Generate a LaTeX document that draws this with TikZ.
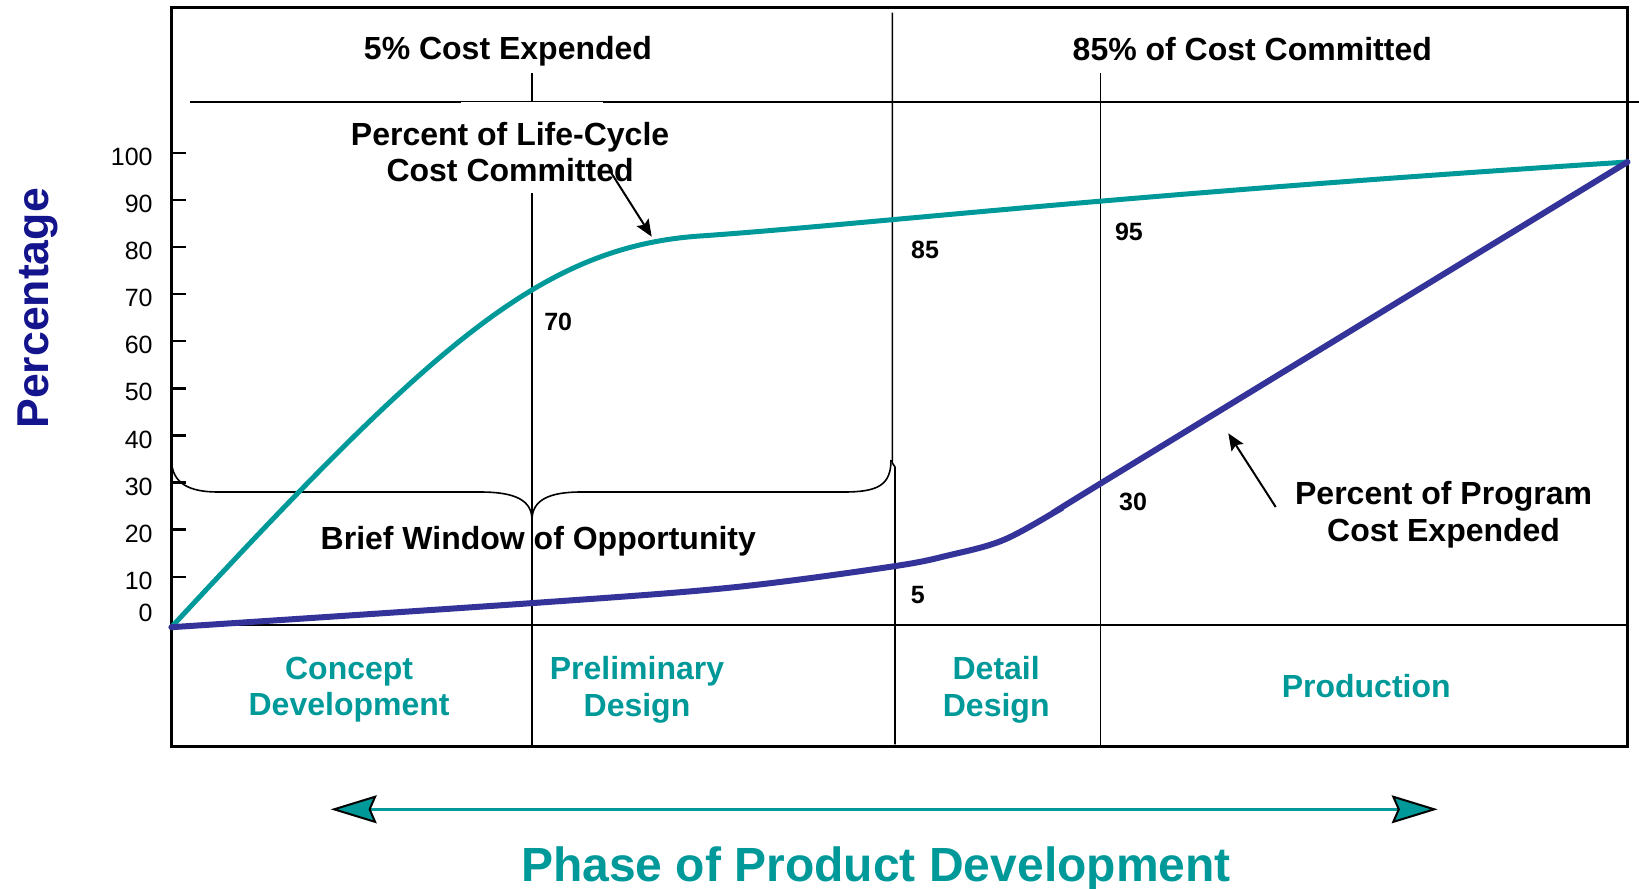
\documentclass[tikz,border=0pt]{standalone}
\usepackage{fontspec}
\setmainfont{Liberation Sans}
\usetikzlibrary{arrows.meta, positioning}
\tikzset{x=0.5pt,y=-0.5pt, >={Stealth[length=8.5pt,width=7pt,inset=1.5pt]}}

\definecolor{lcteal}{RGB}{0,153,153}
\definecolor{pcblue}{RGB}{51,51,153}
\definecolor{axisnavy}{RGB}{20,20,140}

\begin{document}
\begin{tikzpicture}
% Style
[
    frame line/.style={line width=1.5pt},
    phase line/.style={line width=0.8pt},
    committed curve/.style={lcteal, line width=2.5pt, line cap=round},
    expended curve/.style={pcblue, line width=3pt, line cap=round},
    big text/.style={font=\fontsize{16}{18.3}\selectfont\bfseries, align=center, inner sep=0pt},
    value text/.style={font=\fontsize{12.5}{14}\selectfont\bfseries, inner sep=0pt},
    tick text/.style={font=\fontsize{12.5}{14}\selectfont, anchor=east, inner sep=0pt},
    phase text/.style={big text, text=lcteal},
    pointer/.style={->, line width=1pt},
    phase arrow/.style={{Stealth[length=23pt,width=14pt,inset=3pt,color=black,fill=lcteal,line width=1pt]}-{Stealth[length=23pt,width=14pt,inset=3pt,color=black,fill=lcteal,line width=1pt]}, lcteal, line width=1.5pt}
]

%=================================== Start ===================================
{
    \useasboundingbox (0,0) rectangle (1639,889);

    % Define: Frame
    \draw[frame line] (171.4,7.3) rectangle (1627.5,746.3);
    \draw[line width=1pt] (190,102.4) -- (461,102.4);
    \draw[line width=0.5pt] (461,101.9) -- (603,101.9);
    \draw[line width=1pt] (603,102.4) -- (1639,102.4);
    \draw[line width=1.2pt] (171.4,625.1) -- (1627.5,625.1);

    % Define: Phase boundaries
    \draw[phase line] (532.1,73.2) -- (532.1,102.4);
    \draw[phase line] (532.1,193.4) -- (532.1,746.3);
    \draw[phase line] (892.3,12.5) -- (892.3,463) -- (895,467) -- (895,744.3);
    \draw[phase line] (1100.5,73.2) -- (1100.5,746.3);

    % Define: Axis
    \foreach \v in {10,20,...,100} {
        \draw[line width=1.2pt] (171.4,{623.8-4.71*\v}) -- (186,{623.8-4.71*\v});
        \node[tick text] at (153,{627.8-4.71*\v}) {\v};
    }
    \node[tick text] at (153,613) {0};
    \node[rotate=90, font=\fontsize{22.3}{24}\selectfont\bfseries, text=axisnavy] (y label) at (37.5,308.4) {Percentage};

    % Draw: Brace
    \draw[line width=0.8pt] (171.4,460) .. controls (172,484) and (190,492) .. (218,492) -- (480,492)
        .. controls (515,492) and (532,500) .. (532,520) .. controls (532,500) and (549,492) .. (581,492)
        -- (844,492) .. controls (878,492) and (891,485) .. (891,460);

    % Draw: Curves
    \draw[committed curve] (171.4,627.2) .. controls (431.4,346.4) and (540,247) .. (700,236)
        .. controls (860,225) and (1100,196) .. (1627.5,162);
    \draw[expended curve] plot[smooth, tension=0.55] coordinates {(171.4,627.2) (532.1,603.1) (731.7,587.5) (891.6,566.6) (950,555) (1003.5,540) (1060,509) (1099.7,484) (1627.5,162)};

    % Draw: Labels
    \node[big text] (ce label) at (508,51.3) {5\% Cost Expended};
    \node[big text] (cc label) at (1252.3,49.1) {85\% of Cost Committed};
    \node[big text] (lcc label) at (510.1,152) {Percent of Life-Cycle\\Cost Committed};
    \node[big text] (window label) at (538.3,541.5) {Brief Window of Opportunity};
    \node[big text] (pce label) at (1443.6,515) {Percent of Program\\Cost Expended};

    \node[value text] (v70) at (558.2,321.5) {70};
    \node[value text] (v85) at (925.1,249.8) {85};
    \node[value text] (v95) at (1128.9,232.1) {95};
    \node[value text] (v5) at (917.8,594.8) {5};
    \node[value text] (v30) at (1133.1,501.7) {30};

    % Draw: Pointers
    \coordinate (lcc tip) at (651.7,236.7);
    \coordinate (pce tip) at (1228.3,433.3);
    \draw[pointer] (lcc label.east) ++(-59,20) -- (lcc tip);
    \draw[pointer] (pce label.west) ++(-19,-8) -- (pce tip);

    % Draw: Phases
    \node[phase text] (concept) at (349.1,689.7) {Concept\\Development};
    \node[phase text] (prelim) at (637,689.7) {Preliminary\\Design};
    \node[phase text] (detail) at (996.2,689.7) {Detail\\Design};
    \node[phase text] (production) at (1366.2,685.7) {Production};

    \coordinate (phase left) at (330.7,809.3);
    \coordinate (phase right) at (1437.7,809.3);
    \draw[phase arrow] (phase left) -- (phase right);
    \node[font=\fontsize{24}{26}\selectfont\bfseries, text=lcteal, anchor=base, inner sep=0pt] (x label) at (876,881) {Phase of Product Development};
}
%==================================== END ====================================

\end{tikzpicture}
\end{document}
